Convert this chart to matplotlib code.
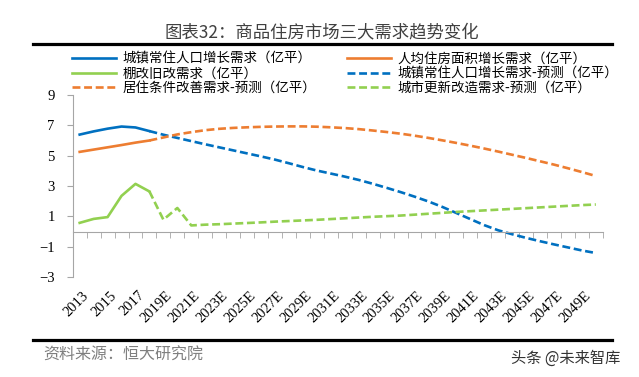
import numpy as np
import matplotlib
matplotlib.use('Agg')
import matplotlib.pyplot as plt
from matplotlib.lines import Line2D

plt.rcParams['font.family'] = ['Noto Sans CJK SC', 'DejaVu Sans']

# ---------- data (亿平)
years = ['2013', '2014', '2015', '2016', '2017', '2018', '2019E', '2020E',
         '2021E', '2022E', '2023E', '2024E', '2025E', '2026E', '2027E', '2028E',
         '2029E', '2030E', '2031E', '2032E', '2033E', '2034E', '2035E', '2036E',
         '2037E', '2038E', '2039E', '2040E', '2041E', '2042E', '2043E', '2044E',
         '2045E', '2046E', '2047E', '2048E', '2049E', '2050E']
shown_labels = ['2013', '2015', '2017', '2019E', '2021E', '2023E', '2025E',
                '2027E', '2029E', '2031E', '2033E', '2035E', '2037E', '2039E',
                '2041E', '2043E', '2045E', '2047E', '2049E']

# 2013-2018 实际
urban_pop = [6.39, 6.60, 6.78, 6.92, 6.86, 6.62]
per_capita = [5.25, 5.40, 5.55, 5.70, 5.86, 6.00]
shantytown = [0.57, 0.83, 0.95, 2.35, 3.14, 2.64]

# 2018-2050 预测
urban_pop_fc = [6.62, 6.38, 6.17, 5.96, 5.75, 5.55, 5.35, 5.15, 4.95, 4.74, 4.50,
                4.25, 4.02, 3.82, 3.62, 3.40, 3.15, 2.88, 2.60, 2.30, 1.98, 1.62,
                1.22, 0.82, 0.42, 0.08, -0.18, -0.42, -0.64, -0.85, -1.05, -1.25, -1.42]
living_fc = [6.00, 6.20, 6.40, 6.55, 6.68, 6.77, 6.83, 6.87, 6.90, 6.92, 6.93,
             6.93, 6.91, 6.87, 6.82, 6.75, 6.66, 6.56, 6.45, 6.32, 6.17, 6.01,
             5.84, 5.66, 5.47, 5.27, 5.06, 4.85, 4.63, 4.41, 4.17, 3.92, 3.66]
renewal_fc = [2.64, 0.78, 1.55, 0.40, 0.45, 0.48, 0.52, 0.56, 0.60, 0.65, 0.69,
              0.73, 0.77, 0.82, 0.87, 0.92, 0.97, 1.01, 1.05, 1.11, 1.17, 1.23,
              1.29, 1.34, 1.39, 1.44, 1.49, 1.54, 1.59, 1.64, 1.69, 1.74, 1.78]

labels = ['城镇常住人口增长需求（亿平）', '棚改旧改需求（亿平）',
          '居住条件改善需求-预测（亿平）', '人均住房面积增长需求（亿平）',
          '城镇常住人口增长需求-预测（亿平）', '城市更新改造需求-预测（亿平）']

BLUE = '#0070C0'
ORANGE = '#ED7D31'
GREEN = '#92D050'
GRAY = '#A6A6A6'
DASH = (0, (3, 1.4))

x_act = np.arange(len(urban_pop))
x_fc = np.arange(len(urban_pop) - 1, len(years))

fig = plt.figure(figsize=(6.39, 3.77), dpi=100)
W, H = 639, 377
ax = fig.add_axes([72.7 / W, 1 - 277 / H, 530.1 / W, 182 / H])

lw = 1.9
h1, = ax.plot(x_act, urban_pop, color=BLUE, lw=lw)
h4, = ax.plot(x_act, per_capita, color=ORANGE, lw=lw)
h2, = ax.plot(x_act, shantytown, color=GREEN, lw=lw)
h5, = ax.plot(x_fc, urban_pop_fc, color=BLUE, lw=lw, ls=DASH)
h3, = ax.plot(x_fc, living_fc, color=ORANGE, lw=lw, ls=DASH)
h6, = ax.plot(x_fc, renewal_fc, color=GREEN, lw=lw, ls=DASH)

ax.set_xlim(-0.5, len(years) - 0.5)
ax.set_ylim(-3, 9)
ax.set_yticks([-3, -1, 1, 3, 5, 7, 9])
for s in ['top', 'right']:
    ax.spines[s].set_visible(False)
ax.spines['left'].set_color(GRAY)
ax.spines['bottom'].set_color(GRAY)
ax.spines['bottom'].set_position(('data', 0))

ax.set_xticks([])
ax.set_xticks(np.arange(-0.5, len(years), 1), minor=True)
ax.tick_params(axis='x', which='minor', length=4, color=GRAY, direction='out')
ax.tick_params(axis='y', length=4, color=GRAY, pad=9)
for t in ax.get_yticklabels():
    t.set_fontfamily('Liberation Serif')
    t.set_fontsize(10.5)

# x labels sit below the plot area, rotated
for lab in shown_labels:
    i = years.index(lab)
    ax.text(i + 0.15, -0.065, lab, transform=ax.get_xaxis_transform(),
            rotation=45, ha='right', va='top', rotation_mode='anchor',
            fontfamily='Liberation Serif', fontsize=10.5)

fig.legend([h1, h2, h3, h4, h5, h6], labels, loc='upper left',
           bbox_to_anchor=(71.7 / W, 1 - 52 / H), ncol=2, frameon=False,
           borderpad=0, borderaxespad=0, handlelength=3.3, handletextpad=0.45,
           columnspacing=2.3, labelspacing=0.02, fontsize=9.7)

fig.text(322 / W, 1 - 32.7 / H, '图表32：商品住房市场三大需求趋势变化',
         ha='center', va='center', fontsize=12.5, color='#404040')
fig.add_artist(Line2D([32.7 / W, 611.7 / W], [1 - 43.5 / H] * 2, color='black', lw=2.3))
fig.add_artist(Line2D([32.7 / W, 611.7 / W], [1 - 340 / H] * 2, color='black', lw=2.3))
fig.text(43 / W, 1 - 355 / H, '资料来源：恒大研究院', ha='left', va='center',
         fontsize=11.5, color='#7F7F7F', style='italic')
fig.text(511 / W, 1 - 358 / H, '头条 @未来智库', ha='left', va='center',
         fontsize=11, color='#333333')

fig.savefig('out.png', dpi=100)
